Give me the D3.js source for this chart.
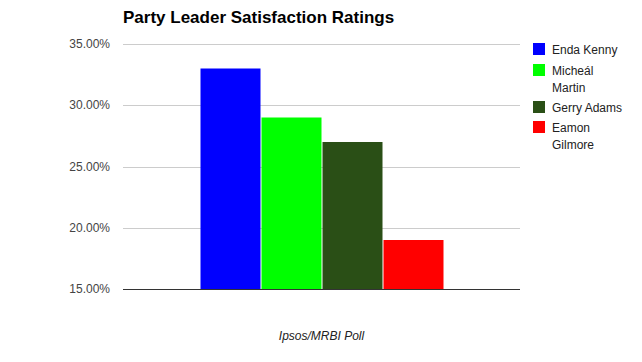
<!DOCTYPE html>
<html>
<head>
<meta charset="utf-8">
<script src="https://cdn.jsdelivr.net/npm/d3@7"></script>
<style>
  body { margin: 0; background: #fff; }
  svg { font-family: "Liberation Sans", Arial, sans-serif; }
  .grid line { stroke: #ccc; }
  .axisLabel { fill: #444; font-size: 12px; }
</style>
</head>
<body>
<script>
(function(){

    //chart data
    var leaders = ["Enda Kenny", "Micheál Martin", "Gerry Adams", "Eamon Gilmore"];
    var ratings = [33, 29, 27, 19];
    var colors = ["#0000ff", "#00ff00", "#2a4f16", "#ff0000"];
    var legendLines = [["Enda Kenny"], ["Micheál", "Martin"], ["Gerry Adams"], ["Eamon", "Gilmore"]];
    var yTicks = [15, 20, 25, 30, 35];

    var width = 642, height = 362;
    var left = 123, right = 520, top = 44, bottom = 289;

    var svg = d3.select("body").append("svg")
        .attr("width", width)
        .attr("height", height);

    var yScale = d3.scaleLinear()
        .domain([15, 35])
        .range([bottom, top]);

    //single category with one bar per leader
    var xScale = d3.scaleBand()
        .domain(leaders)
        .range([200, 444])
        .paddingInner(0.0);

    //gridlines
    svg.append("g")
        .attr("class", "grid")
        .selectAll("line")
        .data(yTicks.slice(1))
        .enter()
        .append("line")
        .attr("x1", left)
        .attr("x2", right)
        .attr("y1", function(d){ return Math.round(yScale(d)) + 0.5; })
        .attr("y2", function(d){ return Math.round(yScale(d)) + 0.5; });

    //tick labels
    svg.selectAll(".axisLabel")
        .data(yTicks)
        .enter()
        .append("text")
        .attr("class", "axisLabel")
        .attr("x", 110)
        .attr("y", function(d){ return yScale(d) + 4; })
        .attr("text-anchor", "end")
        .text(function(d){ return d3.format(".2f")(d) + "%"; });

    //bars
    svg.selectAll(".bar")
        .data(ratings)
        .enter()
        .append("rect")
        .attr("class", "bar")
        .attr("x", function(d, i){ return xScale(leaders[i]) + 0.5; })
        .attr("width", xScale.bandwidth() - 1)
        .attr("y", function(d){ return yScale(d); })
        .attr("height", function(d){ return bottom - yScale(d); })
        .style("fill", function(d, i){ return colors[i]; });

    //baseline
    svg.append("line")
        .attr("x1", left)
        .attr("x2", right)
        .attr("y1", bottom + 0.5)
        .attr("y2", bottom + 0.5)
        .attr("stroke", "#333");

    //title
    svg.append("text")
        .attr("x", 123)
        .attr("y", 23)
        .style("font-size", "17px")
        .style("font-weight", "bold")
        .style("fill", "#000")
        .text("Party Leader Satisfaction Ratings");

    //axis title
    svg.append("text")
        .attr("x", (left + right) / 2)
        .attr("y", 340)
        .attr("text-anchor", "middle")
        .style("font-size", "12px")
        .style("font-style", "italic")
        .style("fill", "#222")
        .text("Ipsos/MRBI Poll");

    //legend
    var legendY = [43, 64, 101, 121];
    var legend = svg.selectAll(".legend")
        .data(leaders)
        .enter()
        .append("g")
        .attr("class", "legend")
        .attr("transform", function(d, i){ return "translate(533," + legendY[i] + ")"; });

    legend.append("rect")
        .attr("width", 12)
        .attr("height", 12)
        .style("fill", function(d, i){ return colors[i]; });

    legend.each(function(d, i){
        var g = d3.select(this);
        legendLines[i].forEach(function(line, j){
            g.append("text")
                .attr("x", 19)
                .attr("y", 11 + j * 17)
                .style("font-size", "12px")
                .style("fill", "#222")
                .text(line);
        });
    });

})();
</script>
</body>
</html>
